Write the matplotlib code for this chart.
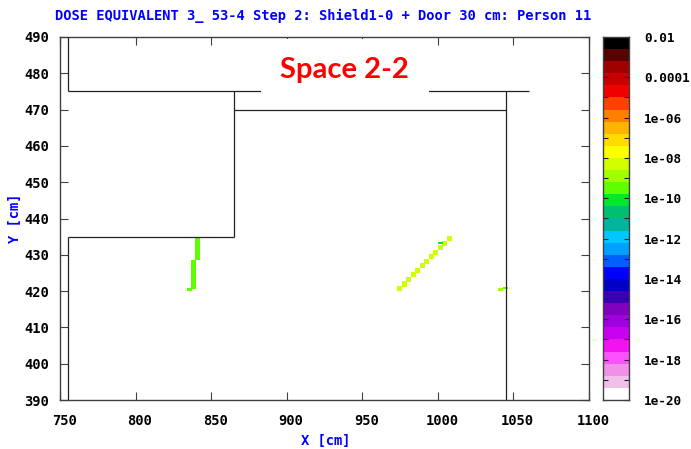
import matplotlib
matplotlib.use("Agg")
import matplotlib.pyplot as plt
from matplotlib.colors import ListedColormap, BoundaryNorm
from matplotlib.patches import Rectangle
from matplotlib.transforms import ScaledTranslation
import numpy as np

# colour bands, top of the bar first
band_colors = ["#000000", "#5a0000", "#a00000", "#c80000", "#f00000", "#ff4000",
               "#ff8000", "#ffb400", "#ffdc00", "#ffff00", "#d0ff00", "#a0ff00",
               "#60ff00", "#00e830", "#00c070", "#00b4a0", "#00c8ff", "#00a0ff",
               "#0060ff", "#0000ff", "#0000c8", "#3c00b4", "#8000c0", "#a000e0",
               "#c800f0", "#f014f0", "#ff50ff", "#f090e8", "#f0c0e8", "#ffffff"]

# dose cells: left x, bottom y, top y, log10 dose
cell_x = [839.5, 837, 834,
          973, 976, 979, 982, 985, 988, 991, 994, 997, 1000, 1003, 1006,
          1000, 1040, 1043]
cell_y0 = [428.5, 420.5, 420,
           420, 421.25, 422.5, 423.75, 425, 426.25, 427.5, 428.75, 430, 431.25, 432.5, 433.75,
           433, 420, 420.5]
cell_y1 = [435, 428.5, 420.8,
           421.4, 422.65, 423.9, 425.15, 426.4, 427.65, 428.9, 430.15, 431.4, 432.65, 433.9, 435.15,
           433.6, 420.8, 421]
cell_log = [-9.5, -9.5, -9.5,
            -8.3, -8.3, -8.3, -8.3, -8.3, -8.3, -8.3, -8.3, -8.3, -8.3, -8.3, -8.3,
            -10.1, -8.9, -9.5]

# wall outline segments, x0, x1, y0, y1
wall_x0 = [755, 755, 865, 865, 755, 755, 1045]
wall_x1 = [755, 1060, 865, 1045, 865, 755, 1045]
wall_y0 = [490, 475, 475, 470, 435, 435, 475]
wall_y1 = [475, 475, 435, 470, 435, 390, 390]

x_ticks = [750, 800, 850, 900, 950, 1000, 1050, 1100]
y_ticks = [390, 400, 410, 420, 430, 440, 450, 460, 470, 480, 490]
bar_ticks = [-2, -4, -6, -8, -10, -12, -14, -16, -18, -20]
bar_labels = ["0.01", "0.0001", "1e-06", "1e-08", "1e-10", "1e-12", "1e-14", "1e-16", "1e-18", "1e-20"]
title = "DOSE EQUIVALENT 3_ 53-4 Step 2: Shield1-0 + Door 30 cm: Person 11"

W, H = 691, 449
axis_col = "#404040"
plt.rcParams["font.family"] = "DejaVu Sans Mono"
plt.rcParams["font.weight"] = "bold"
plt.rcParams["font.size"] = 9.9

fig = plt.figure(figsize=(W / 100, H / 100), dpi=100)
ax = fig.add_axes([60 / W, 1 - 400 / H, 529 / W, 363 / H])
ax.set_xlim(750, 1100)
ax.set_ylim(390, 490)

# dose scale runs from 1e-20 up to 0.01 in 30 equal bands
edges = np.linspace(-20, -2, 31)
cmap = ListedColormap(band_colors[::-1])
norm = BoundaryNorm(edges, cmap.N)

for x, y0, y1, v in zip(cell_x, cell_y0, cell_y1, cell_log):
    ax.bar(x, y1 - y0, width=3.3, bottom=y0, align="edge", color=cmap(norm(v)), linewidth=0, zorder=2)

for x0, x1, y0, y1 in zip(wall_x0, wall_x1, wall_y0, wall_y1):
    ax.plot([x0, x1], [y0, y1], color="#222222", lw=0.9, zorder=3, solid_capstyle="butt")

ax.set_xticks(x_ticks)
ax.set_yticks(y_ticks)
ax.tick_params(axis="both", direction="in", top=True, right=True, length=5.5, width=0.8, color=axis_col)
ax.tick_params(axis="x", pad=10)
ax.tick_params(axis="y", pad=8)
for lab in ax.get_xticklabels():
    lab.set_transform(lab.get_transform() + ScaledTranslation(3 / 72, 0, fig.dpi_scale_trans))
for s in ax.spines.values():
    s.set_color(axis_col)
    s.set_linewidth(1.0)

fig.text(55 / W, 1 - 16 / H, title, color="#0000ff", va="center", ha="left")
fig.text(326 / W, 1 - 441 / H, "X [cm]", color="#0000ff", va="center", ha="center")
fig.text(15 / W, 1 - 218 / H, "Y [cm]", color="#0000ff", va="center", ha="center", rotation=90)

# white box pasted over the top of the plot, holds the room name
fig.add_artist(Rectangle((261 / W, 1 - 94 / H), 168 / W, 55 / H, transform=fig.transFigure,
                         facecolor="white", edgecolor="none", zorder=5))
fig.text(344 / W, 1 - 70 / H, "Space 2-2", color="#ff0000", family="Lato", weight="bold",
         fontsize=21, va="center", ha="center", zorder=6)

# colour bar
cax = fig.add_axes([603 / W, 1 - 400 / H, 26 / W, 363 / H])
cax.pcolormesh([0, 1], edges, ((edges[:-1] + edges[1:]) / 2)[:, None], cmap=cmap, norm=norm)
cax.set_xticks([])
cax.yaxis.tick_right()
cax.set_yticks(bar_ticks)
cax.set_yticklabels(bar_labels)
cax.set_yticks(np.arange(-19, -2, 2), minor=True)
cax.tick_params(axis="y", which="both", direction="in", left=True, right=True, length=3.5,
                width=0.8, color="#202020", pad=11, labelsize=9.2)
for s in cax.spines.values():
    s.set_color(axis_col)
    s.set_linewidth(1.0)

fig.savefig("out.png", dpi=100)
